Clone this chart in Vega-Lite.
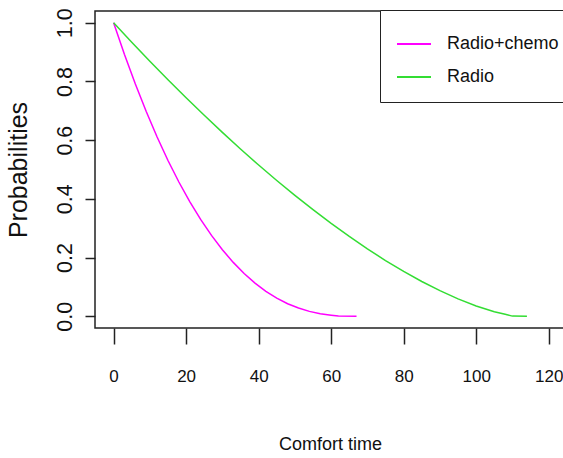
{
  "$schema": "https://vega.github.io/schema/vega-lite/v6.json",
  "autosize": {"type": "none"},
  "padding": {"left": 95, "top": 11, "right": 0, "bottom": 130},
  "width": 470,
  "height": 317,
  "background": "white",
  "config": {
    "view": {"stroke": "#222222", "strokeWidth": 1.5},
    "axis": {"grid": false, "domain": false, "tickColor": "#222222", "tickWidth": 1.5, "labelColor": "#111111", "titleColor": "#111111", "titleFontWeight": "normal"},
    "legend": {"orient": "none", "legendX": 285, "legendY": -1, "padding": 16, "strokeColor": "#222222", "fillColor": "white", "symbolType": "stroke", "symbolSize": 1156, "symbolStrokeWidth": 2, "labelFont": "Liberation Sans, Arial", "labelFontSize": 18, "labelColor": "#111111", "labelOffset": 15, "rowPadding": 6, "labelLimit": 300}
  },
  "data": {"values": [
    {"group": "Radio+chemo", "t": 0, "p": 1},
    {"group": "Radio+chemo", "t": 3, "p": 0.8918},
    {"group": "Radio+chemo", "t": 6, "p": 0.791},
    {"group": "Radio+chemo", "t": 9, "p": 0.6973},
    {"group": "Radio+chemo", "t": 12, "p": 0.6105},
    {"group": "Radio+chemo", "t": 15, "p": 0.5307},
    {"group": "Radio+chemo", "t": 18, "p": 0.4574},
    {"group": "Radio+chemo", "t": 21, "p": 0.3906},
    {"group": "Radio+chemo", "t": 24, "p": 0.33},
    {"group": "Radio+chemo", "t": 27, "p": 0.2754},
    {"group": "Radio+chemo", "t": 30, "p": 0.2266},
    {"group": "Radio+chemo", "t": 33, "p": 0.1835},
    {"group": "Radio+chemo", "t": 36, "p": 0.1456},
    {"group": "Radio+chemo", "t": 39, "p": 0.1129},
    {"group": "Radio+chemo", "t": 42, "p": 0.085},
    {"group": "Radio+chemo", "t": 45, "p": 0.0618},
    {"group": "Radio+chemo", "t": 48, "p": 0.0428},
    {"group": "Radio+chemo", "t": 51, "p": 0.0279},
    {"group": "Radio+chemo", "t": 54, "p": 0.0166},
    {"group": "Radio+chemo", "t": 57, "p": 0.0086},
    {"group": "Radio+chemo", "t": 60, "p": 0.0035},
    {"group": "Radio+chemo", "t": 62, "p": 0.0005},
    {"group": "Radio+chemo", "t": 67, "p": 0},
    {"group": "Radio", "t": 0, "p": 1},
    {"group": "Radio", "t": 5, "p": 0.9338},
    {"group": "Radio", "t": 10, "p": 0.8691},
    {"group": "Radio", "t": 15, "p": 0.806},
    {"group": "Radio", "t": 20, "p": 0.7445},
    {"group": "Radio", "t": 25, "p": 0.6846},
    {"group": "Radio", "t": 30, "p": 0.6264},
    {"group": "Radio", "t": 35, "p": 0.57},
    {"group": "Radio", "t": 40, "p": 0.5154},
    {"group": "Radio", "t": 45, "p": 0.4627},
    {"group": "Radio", "t": 50, "p": 0.4119},
    {"group": "Radio", "t": 55, "p": 0.3631},
    {"group": "Radio", "t": 60, "p": 0.3164},
    {"group": "Radio", "t": 65, "p": 0.2719},
    {"group": "Radio", "t": 70, "p": 0.2296},
    {"group": "Radio", "t": 75, "p": 0.1899},
    {"group": "Radio", "t": 80, "p": 0.1527},
    {"group": "Radio", "t": 85, "p": 0.1184},
    {"group": "Radio", "t": 90, "p": 0.0871},
    {"group": "Radio", "t": 95, "p": 0.0591},
    {"group": "Radio", "t": 100, "p": 0.0351},
    {"group": "Radio", "t": 105, "p": 0.0156},
    {"group": "Radio", "t": 108, "p": 0.0067},
    {"group": "Radio", "t": 110, "p": 0.0005},
    {"group": "Radio", "t": 114, "p": 0}
  ]},
  "mark": {"type": "line", "strokeWidth": 1.5, "interpolate": "linear"},
  "encoding": {
    "x": {
      "field": "t", "type": "quantitative",
      "scale": {"domain": [-5.13, 124.5], "nice": false, "zero": false},
      "axis": {
        "title": "Comfort time", "values": [0, 20, 40, 60, 80, 100, 120],
        "tickSize": 16, "labelPadding": 24,
        "labelFont": "Liberation Sans, Arial", "labelFontSize": 17,
        "titleFont": "Liberation Sans, Arial", "titleFontSize": 18,
        "titleY": 121, "titleBaseline": "alphabetic"
      }
    },
    "y": {
      "field": "p", "type": "quantitative",
      "scale": {"domain": [-0.04, 1.04], "nice": false, "zero": false},
      "axis": {
        "title": "Probabilities", "values": [0, 0.2, 0.4, 0.6, 0.8, 1], "format": ".1f",
        "tickSize": 10, "labelPadding": 14, "labelAngle": 270, "labelAlign": "center", "labelBaseline": "alphabetic",
        "labelFont": "Liberation Sans, Arial", "labelFontSize": 21.5,
        "titleFont": "Liberation Sans, Arial", "titleFontSize": 25,
        "titleX": -69, "titleBaseline": "alphabetic", "titleAngle": 270
      }
    },
    "color": {
      "field": "group", "type": "nominal",
      "scale": {"domain": ["Radio+chemo", "Radio"], "range": ["#FF00FF", "#33DD33"]},
      "legend": {"title": null}
    }
  }
}
